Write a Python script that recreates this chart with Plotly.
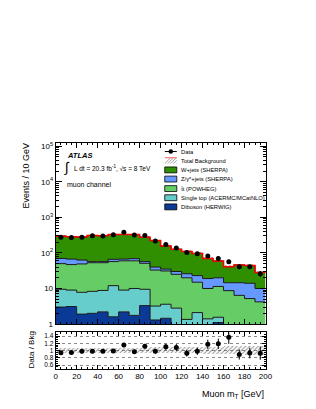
import numpy as np
import plotly.graph_objects as go

# ---------------- data ----------------
bin_edges = list(range(0, 201, 10))
diboson    = [3.0, 3.1, 1.9, 2.0, 2.2, 1.6, 2.2, 1.75, 3.3, 1.3, 1.45, 0.8, 0.7, 0.6, 0.7, 1.1, 0.5, 0.4, 0.5, 0.3]
single_top = [6.5, 5.9, 5.9, 6.3, 6.6, 10.4, 6.8, 8.25, 6.2, 1.9, 2.15, 2.0, 0.65, 1.5, 0.7, 0.45, 0.4, 0.4, 0.3, 0.4]
ttbar      = [40.5, 38.0, 41.2, 44.7, 44.2, 45.0, 51.0, 50.0, 41.5, 29.8, 27.4, 22.2, 18.65, 12.9, 8.6, 9.85, 7.8, 5.6, 4.4, 3.5]
zjets      = [20.0, 20.0, 14.0, 4.0, 4.0, 9.0, 7.0, 9.0, 6.0, 7.0, 4.0, 5.0, 6.0, 8.0, 9.0, 8.6, 5.8, 8.1, 8.8, 5.8]
wjets      = [226, 218, 217, 253, 248, 264, 263, 261, 220, 182, 121, 96, 84, 74, 51, 39, 26.5, 31.5, 30, 18]
data       = [278, 270, 275, 305, 300, 325, 380, 320, 310, 218, 172, 137, 102, 95, 82, 70, 56, 41, 41, 26]
bkg_unc    = [0.07, 0.07, 0.07, 0.07, 0.07, 0.07, 0.07, 0.07, 0.07, 0.08,
              0.08, 0.08, 0.09, 0.09, 0.10, 0.10, 0.11, 0.11, 0.12, 0.12]
x_ticks = [0, 20, 40, 60, 80, 100, 120, 140, 160, 180, 200]
y_tick_text = ["1", "10", "10<sup>2</sup>", "10<sup>3</sup>", "10<sup>4</sup>", "10<sup>5</sup>"]
ratio_ticks = [0.6, 0.8, 1.0, 1.2, 1.4]
ratio_tick_text = ["0.6", "0.8", "1", "1.2", "1.4"]

samples = [
    ("Diboson (HERWIG)", diboson, "#0b3a96"),
    ("Single top (ACERMC/MCatNLO)", single_top, "#66cccc"),
    ("t&#772;t (POWHEG)", ttbar, "#66cc66"),
    ("Z/γ*+jets (SHERPA)", zjets, "#6699ff"),
    ("W+jets (SHERPA)", wjets, "#2f8f00"),
]

# ---------------- geometry ----------------
W, H = 316, 409
def px(x):
    return x / W
def py(y):
    return 1 - y / H

edges = np.array(bin_edges, dtype=float)
centers = 0.5 * (edges[:-1] + edges[1:])
widths = np.diff(edges)
data_a = np.array(data, dtype=float)
unc = np.array(bkg_unc)

FONT = "Liberation Sans, Arial, Helvetica, sans-serif"

fig = go.Figure()

def step_y(vals):
    v = list(vals)
    return v + [v[-1]]

# baseline for the first fill (below the axis range)
fig.add_trace(go.Scatter(x=edges, y=[1e-3] * len(edges), mode="lines",
                         line=dict(width=0, shape="hv"), showlegend=False,
                         hoverinfo="skip"))
cum = np.zeros(len(centers))
for name, vals, col in samples:
    cum = cum + np.array(vals, dtype=float)
    fig.add_trace(go.Scatter(x=edges, y=step_y(cum), mode="lines",
                             line=dict(color="#1a1a1a", width=1, shape="hv"),
                             fill="tonexty", fillcolor=col, name=name,
                             showlegend=False))
total = cum.copy()

# total background uncertainty (hatched)
fig.add_trace(go.Bar(x=centers, y=2 * unc * total, base=total * (1 - unc), width=widths,
                     marker=dict(color="rgba(0,0,0,0)", line=dict(width=0),
                                 pattern=dict(shape="/", fgcolor="#222", size=3,
                                              solidity=0.35, bgcolor="rgba(0,0,0,0)")),
                     showlegend=False, hoverinfo="skip"))
# total background line
fig.add_trace(go.Scatter(x=edges, y=step_y(total), mode="lines",
                         line=dict(color="#ff0000", width=1.5, shape="hv"),
                         showlegend=False))
# data
fig.add_trace(go.Scatter(x=centers, y=data_a, mode="markers",
                         marker=dict(color="black", size=5),
                         error_y=dict(type="data", array=np.sqrt(data_a), color="black",
                                      thickness=1, width=0),
                         showlegend=False))

# ---------------- ratio panel ----------------
ratio = data_a / total
ratio_err = np.sqrt(data_a) / total
fig.add_trace(go.Bar(x=centers, y=2 * unc, base=1 - unc, width=widths,
                     marker=dict(color="rgba(0,0,0,0)", line=dict(width=0),
                                 pattern=dict(shape="/", fgcolor="#333", size=3,
                                              solidity=0.35, bgcolor="rgba(0,0,0,0)")),
                     xaxis="x2", yaxis="y2", showlegend=False, hoverinfo="skip"))
fig.add_trace(go.Scatter(x=centers, y=ratio, mode="markers",
                         marker=dict(color="black", size=5),
                         error_y=dict(type="data", array=ratio_err, color="black",
                                      thickness=1, width=0),
                         xaxis="x2", yaxis="y2", showlegend=False))

xdom = [px(47), px(263)]
minor_log = [m * 10 ** d for d in range(0, 5) for m in range(2, 10)]

axis_common = dict(showline=True, linecolor="black", linewidth=1, mirror="allticks",
                   ticks="inside", tickcolor="black", showgrid=False, zeroline=False)

fig.update_layout(
    width=W, height=H,
    margin=dict(l=0, r=0, t=0, b=0),
    paper_bgcolor="white", plot_bgcolor="white",
    barmode="overlay", bargap=0,
    font=dict(family=FONT, size=8, color="black"),
    xaxis=dict(domain=xdom, anchor="y", range=[0, 200], tickvals=x_ticks,
               showticklabels=False, ticklen=5,
               minor=dict(ticks="inside", ticklen=2.5, dtick=5, tick0=0, tickcolor="black"),
               **axis_common),
    yaxis=dict(domain=[py(319.5), py(135)], anchor="x", type="log", range=[0, 5.1],
               tickvals=[1, 10, 100, 1000, 10000, 100000], ticktext=y_tick_text,
               ticklen=6, tickfont=dict(size=8),
               minor=dict(ticks="inside", ticklen=3, tickvals=minor_log, tickcolor="black"),
               **axis_common),
    xaxis2=dict(domain=xdom, anchor="y2", range=[0, 200], matches="x", tickvals=x_ticks,
                ticklen=4, tickfont=dict(size=8),
                minor=dict(ticks="inside", ticklen=2, dtick=5, tick0=0, tickcolor="black"),
                **axis_common),
    yaxis2=dict(domain=[py(365), py(328)], anchor="x2", range=[0.5, 1.5],
                tickvals=ratio_ticks, ticktext=ratio_tick_text,
                ticklen=4, tickfont=dict(size=6.5),
                minor=dict(ticks="inside", ticklen=2, dtick=0.05, tick0=0, tickcolor="black"),
                showline=True, linecolor="black", linewidth=1, mirror="allticks",
                ticks="inside", tickcolor="black", zeroline=False,
                showgrid=True, gridcolor="#888", griddash="dot", gridwidth=0.8),
)

annotations = []
shapes = []
# axis titles
annotations.append(dict(x=px(17), y=py(169), xref="paper", yref="paper",
                        text="Events / 10 GeV", textangle=-90, showarrow=False,
                        font=dict(size=9), xanchor="center", yanchor="middle"))
annotations.append(dict(x=px(22), y=py(346), xref="paper", yref="paper",
                        text="Data / Bkg", textangle=-90, showarrow=False,
                        font=dict(size=8), xanchor="center", yanchor="middle"))
annotations.append(dict(x=px(263), y=py(391), xref="paper", yref="paper",
                        text="Muon m<sub>T</sub> [GeV]", showarrow=False,
                        font=dict(size=9), xanchor="right", yanchor="middle"))
# ATLAS labels
annotations.append(dict(x=px(57), y=py(148), xref="paper", yref="paper",
                        text="<b><i>ATLAS</i></b>", showarrow=False,
                        font=dict(size=7.5), xanchor="left", yanchor="middle"))
annotations.append(dict(x=px(63), y=py(160), xref="paper", yref="paper",
                        text="∫", showarrow=False, borderpad=0,
                        font=dict(size=14), xanchor="right", yanchor="middle"))
annotations.append(dict(x=px(64.5), y=py(161), xref="paper", yref="paper",
                        text="L dt = 20.3 fb<sup>-1</sup>, √s = 8 TeV", showarrow=False,
                        borderpad=0, font=dict(size=6.5), xanchor="left", yanchor="middle"))
annotations.append(dict(x=px(57), y=py(178), xref="paper", yref="paper",
                        text="muon channel", showarrow=False,
                        font=dict(size=7), xanchor="left", yanchor="middle"))

# manual legend
leg_x0, leg_x1, leg_tx = 159.3, 171.7, 174.0
leg_rows = [144.0, 153.3, 162.7, 172.0, 181.7, 191.0, 200.3]
leg_labels = ["Data", "Total Background", "W+jets (SHERPA)", "Z/γ*+jets (SHERPA)",
              "t&#772;t (POWHEG)", "Single top (ACERMC/MCatNLO)", "Diboson (HERWIG)"]
for yrow, lab in zip(leg_rows, leg_labels):
    annotations.append(dict(x=px(leg_tx), y=py(yrow), xref="paper", yref="paper",
                            text=lab, showarrow=False, font=dict(size=5.8),
                            xanchor="left", yanchor="middle"))
# data symbol
shapes.append(dict(type="line", xref="paper", yref="paper",
                   x0=px(leg_x0), x1=px(leg_x1), y0=py(leg_rows[0]), y1=py(leg_rows[0]),
                   line=dict(color="black", width=1)))
shapes.append(dict(type="circle", xref="paper", yref="paper",
                   x0=px(165.5 - 2.3), x1=px(165.5 + 2.3), y0=py(leg_rows[0] + 2.3),
                   y1=py(leg_rows[0] - 2.3), fillcolor="black", line=dict(width=0)))
# total background symbol (hatch)
yb0, yb1 = leg_rows[1] - 3, leg_rows[1] + 3
for k in range(5):
    xa = leg_x0 + k * 3.0
    xb = min(xa + 6, leg_x1)
    shapes.append(dict(type="line", xref="paper", yref="paper",
                       x0=px(xa), x1=px(xb), y0=py(yb1), y1=py(yb1 - (xb - xa)),
                       line=dict(color="#777", width=0.7)))
shapes.append(dict(type="line", xref="paper", yref="paper",
                   x0=px(leg_x0), x1=px(leg_x1), y0=py(yb0), y1=py(yb0),
                   line=dict(color="#ff3333", width=0.8)))
# filled boxes
box_cols = {2: "#2f8f00", 3: "#6699ff", 4: "#66cc66", 5: "#66cccc", 6: "#0b3a96"}
for i, col in box_cols.items():
    shapes.append(dict(type="rect", xref="paper", yref="paper",
                       x0=px(leg_x0), x1=px(leg_x1), y0=py(leg_rows[i] + 3), y1=py(leg_rows[i] - 3),
                       fillcolor=col, line=dict(color="black", width=0.8)))

fig.update_layout(annotations=annotations, shapes=shapes)
fig.write_html("out.html")
